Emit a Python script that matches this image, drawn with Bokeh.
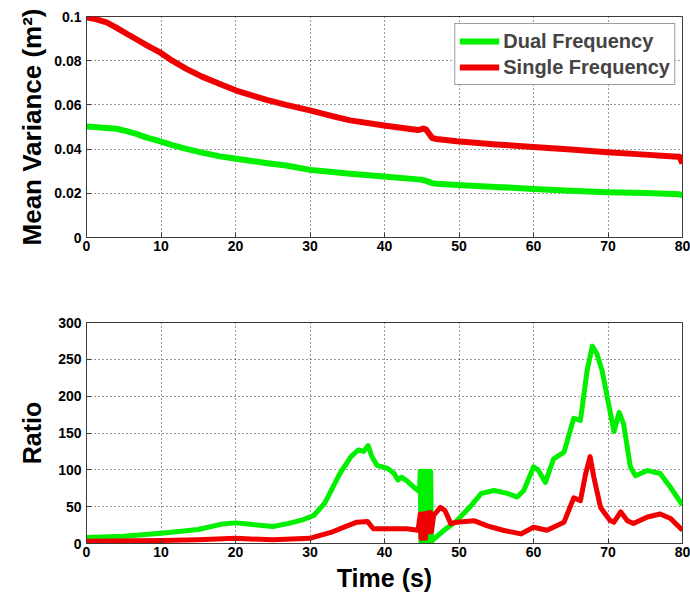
from bokeh.plotting import figure
from bokeh.layouts import column
from bokeh.models import FixedTicker, CustomJSTickFormatter, Legend, LegendItem
from bokeh.embed import file_html
from bokeh.resources import INLINE

# ---- top panel data (mean variance) ----
top_t = [0, 1, 2.7, 4, 5.4, 6.7, 8.1, 9.8, 11.5, 13.4, 15.5, 17.9, 20.1, 22.4, 24.3, 26.8, 30, 33, 35.4, 39.9,
         44.5, 45.2, 45.6, 46.4, 47, 49.7, 55, 60, 65, 69.9, 75, 78.8, 79.6, 80]
single_var = [0.0996, 0.0990, 0.0973, 0.0950, 0.0922, 0.0897, 0.0869, 0.0839, 0.0800, 0.0763, 0.0728, 0.0695, 0.0665,
              0.0641, 0.0622, 0.0600, 0.0575, 0.0549, 0.0530, 0.0507,
              0.0486, 0.0493, 0.0488, 0.0450, 0.0446, 0.0436, 0.0421, 0.0410, 0.0398, 0.0386, 0.0375, 0.0367, 0.0365, 0.0335]
dual_var = [0.0502, 0.0500, 0.0496, 0.0492, 0.0481, 0.0469, 0.0452, 0.0436, 0.0418, 0.0401, 0.0384, 0.0367, 0.0356,
            0.0345, 0.0336, 0.0326, 0.0306, 0.0296, 0.0288, 0.0276,
            0.0263, 0.0260, 0.0256, 0.0246, 0.0243, 0.0238, 0.0229, 0.0220, 0.0212, 0.0205, 0.0201, 0.0197, 0.0196, 0.0190]

# ---- bottom panel data (ratio) ----
dual_t = [0, 5, 10, 15, 18, 20, 22, 25, 27, 29, 30.5, 32, 34, 35.5, 36.5, 37.2, 37.8, 38.3, 39, 40.4, 41.3, 41.8, 42.3, 43, 44, 44.7,
          44.8, 44.9, 45.0, 45.1, 45.2, 45.3, 45.4, 45.5, 45.6, 45.7, 45.8, 45.9, 46.0, 46.1, 46.2, 46.3,
          46.5, 48, 49.7, 51.5, 53, 54.7, 56.5, 57.8, 58.7, 60, 60.6, 61.6, 62.7,
          64.1, 65.4, 66.3, 67.2, 67.9, 68.5, 69.2, 69.9, 70.8, 71.5, 72.1, 73, 73.7, 75.3, 77, 78.4, 80]
dual_ratio = [8, 10, 14, 19, 26, 28, 26, 23, 27, 32, 38, 55, 95, 118, 127, 125, 133, 118, 106, 102, 95, 86, 90, 85, 76, 70,
              98, 0, 98, 0, 98, 0, 98, 0, 98, 0, 98, 0, 98, 0, 98, 2,
              5, 18, 31, 50, 68, 72, 68, 63, 72, 104, 100, 83, 115,
              124, 170, 167, 235, 268, 258, 235, 199, 152, 178, 162, 104, 92, 99, 95, 76, 52]
single_t = [0, 10, 15, 20, 25, 30, 31, 32.8, 35, 36.3, 37.7, 38.5, 40.4, 43, 44.5,
            44.8, 44.9, 45.0, 45.1, 45.2, 45.3, 45.4, 45.5, 45.6, 45.7, 45.8, 45.9, 46.0, 46.1, 46.2, 46.3,
            46.6, 47.5, 48.1, 48.9, 49.7, 52, 53.8, 55.9, 58.3, 60, 61.8,
            64.1, 65.4, 66.3, 67, 67.6, 68.1, 69, 70.3, 70.8, 71.7, 72.6, 73.4, 75.3, 77, 78.4, 80]
single_ratio = [3, 4, 5, 7, 5, 7, 10, 15, 24, 29, 30, 20, 20, 20, 18,
                40, 7, 40, 7, 40, 7, 40, 7, 41, 16, 41, 16, 42, 16, 42, 16,
                38, 49, 45, 27, 29, 31, 24, 18, 13, 22, 18,
                29, 62, 58, 95, 118, 90, 49, 31, 29, 43, 31, 27, 36, 40, 34, 18]

x_ticks = [0, 10, 20, 30, 40, 50, 60, 70, 80]
var_ticks = [0, 0.02, 0.04, 0.06, 0.08, 0.1]
ratio_ticks = [0, 50, 100, 150, 200, 250, 300]

GREEN = "#00f000"
RED = "#f00000"
FONT = "Liberation Sans"
FRAME = "#3a3a3a"


def style(p, yticks, ylabel_standoff):
    p.outline_line_color = FRAME
    p.outline_line_width = 1
    p.background_fill_color = "white"
    p.border_fill_color = "white"
    for ax in (p.xaxis[0], p.yaxis[0]):
        ax.axis_line_color = FRAME
        ax.major_tick_line_color = FRAME
        ax.major_tick_in = 5
        ax.major_tick_out = 0
        ax.minor_tick_line_color = None
        ax.major_label_text_font = FONT
        ax.major_label_text_font_style = "bold"
        ax.major_label_text_font_size = "14px"
        ax.major_label_text_color = "black"
        ax.axis_label_text_font = FONT
        ax.axis_label_text_font_style = "bold"
        ax.axis_label_text_font_size = "25px"
        ax.axis_label_text_color = "black"
    p.xaxis[0].ticker = FixedTicker(ticks=x_ticks)
    p.yaxis[0].ticker = FixedTicker(ticks=yticks)
    p.xaxis[0].major_label_standoff = 3
    p.yaxis[0].major_label_standoff = 5
    p.yaxis[0].axis_label_standoff = ylabel_standoff
    p.yaxis[0].formatter = CustomJSTickFormatter(code="return String(Math.round(tick*100)/100);")
    for g in (p.xgrid[0], p.ygrid[0]):
        g.grid_line_color = "black"
        g.grid_line_dash = "1 3"
        g.grid_line_alpha = 0.8
        g.grid_line_width = 1


p1 = figure(width=690, height=270, x_range=(0, 80), y_range=(0, 0.1),
            output_backend="svg", toolbar_location=None,
            min_border_left=86, min_border_right=8, min_border_top=16, min_border_bottom=33)
r_dual = p1.line(top_t, dual_var, line_color=GREEN, line_width=6, line_join="round")
r_single = p1.line(top_t, single_var, line_color=RED, line_width=6, line_join="round")
p1.yaxis[0].axis_label = "Mean Variance (m²)"
style(p1, var_ticks, 4)
p1.yaxis[0].axis_label_text_font_size = "26px"

legend = Legend(items=[LegendItem(label="Dual Frequency", renderers=[r_dual]),
                       LegendItem(label="Single Frequency", renderers=[r_single])],
                location="top_right")
legend.label_text_font = FONT
legend.label_text_font_style = "bold"
legend.label_text_font_size = "20px"
legend.glyph_width = 40
legend.glyph_height = 26
legend.label_height = 26
legend.label_standoff = 4
legend.padding = 4
legend.spacing = 0
legend.margin = 7
legend.border_line_color = FRAME
legend.border_line_width = 1
legend.background_fill_alpha = 1
p1.add_layout(legend)

p2 = figure(width=690, height=324, x_range=(0, 80), y_range=(0, 300),
            output_backend="svg", toolbar_location=None,
            min_border_left=86, min_border_right=8, min_border_top=52, min_border_bottom=51)
p2.line(dual_t, dual_ratio, line_color=GREEN, line_width=5, line_join="round")
p2.line(single_t, single_ratio, line_color=RED, line_width=5, line_join="round")
p2.yaxis[0].axis_label = "Ratio"
p2.xaxis[0].axis_label = "Time (s)"
style(p2, ratio_ticks, 9)
p2.xaxis[0].axis_label_standoff = 4

layout = column(p1, p2)
open("out.html", "w").write(file_html(layout, INLINE))
